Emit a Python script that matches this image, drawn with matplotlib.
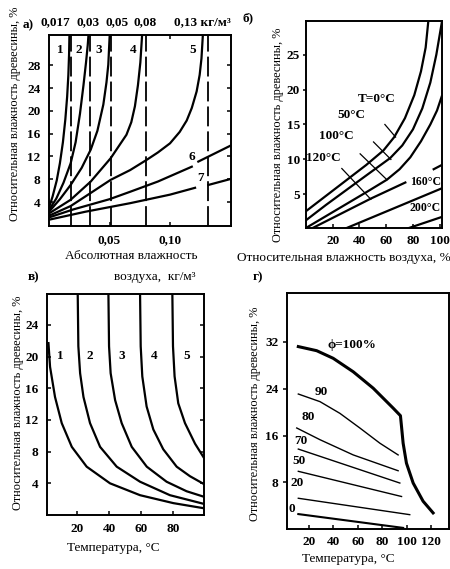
import numpy as np
import matplotlib
matplotlib.use('Agg')
import matplotlib.pyplot as plt
from matplotlib import rc

rc('font', **{'family': ['Liberation Serif', 'DejaVu Serif'], 'size': 9})
rc('axes', **{'linewidth': 1.4})
rc('xtick', **{'direction': 'in', 'major.size': 3, 'major.width': 1.1})
rc('ytick', **{'direction': 'in', 'major.size': 3, 'major.width': 1.1})

W, H = 450, 569

# ---------------- panel a: wood moisture vs absolute air humidity
a_x1 = [0, 0.003, 0.0064, 0.009, 0.0115, 0.0135, 0.015, 0.016, 0.0166, 0.0169]
a_y1 = [3.0, 5.0, 7.8, 10.8, 14.5, 18.5, 22.5, 26.3, 30.0, 33.5]
a_x2 = [0, 0.006, 0.012, 0.0179, 0.022, 0.0256, 0.0285, 0.0306, 0.032, 0.0327]
a_y2 = [2.6, 4.6, 7.4, 10.8, 14.5, 19.5, 24.5, 28.5, 31.5, 33.5]
a_x3 = [0, 0.009, 0.0179, 0.027, 0.0345, 0.040, 0.0449, 0.0475, 0.049, 0.0502]
a_y3 = [2.3, 4.5, 7.0, 10.0, 13.2, 16.5, 21.1, 25.0, 28.1, 33.5]
a_x4 = [0, 0.0179, 0.0345, 0.051, 0.064, 0.068, 0.071, 0.0735, 0.0755, 0.077]
a_y4 = [2.0, 4.4, 7.6, 11.7, 15.8, 18.0, 20.8, 24.5, 28.5, 33.5]
a_x5 = [0, 0.0179, 0.0345, 0.051, 0.067, 0.0807, 0.090, 0.100, 0.108, 0.1138,
        0.118, 0.122, 0.1245, 0.126, 0.1272]
a_y5 = [1.6, 3.3, 5.6, 7.9, 9.6, 11.4, 12.7, 14.3, 16.3, 18.3,
        20.5, 23.4, 26.3, 29.2, 33.5]
a_x6 = [0, 0.02, 0.05, 0.067, 0.09, 0.118]
a_y6 = [1.3, 2.7, 4.5, 5.8, 7.6, 10.2]
a_x6b = [0.1234, 0.151]
a_y6b = [11.1, 14.0]
a_x7 = [0, 0.03, 0.067, 0.100, 0.1207]
a_y7 = [0.9, 2.3, 3.8, 5.3, 6.5]
a_x7b = [0.1317, 0.151]
a_y7b = [7.0, 8.1]
a_dash = [0.018, 0.034, 0.051, 0.080, 0.131]
a_lab_x = [0.009, 0.025, 0.0413, 0.0697, 0.119]
a_lab = ['1', '2', '3', '4', '5']

# ---------------- panel b: wood moisture vs relative air humidity
b_x0 = [0, 15, 30, 45, 58, 66, 74, 81, 86, 89.5, 91.5]
b_y0 = [2.6, 4.8, 7.0, 9.2, 11.3, 13.2, 15.9, 19.2, 22.6, 26.0, 29.8]
b_x50 = [0, 15, 30, 45, 63, 72, 80, 87, 93, 97.5, 101.5]
b_y50 = [1.3, 3.5, 5.6, 7.7, 10.2, 12.0, 14.3, 17.3, 21.0, 25.0, 29.5]
b_x100 = [0, 15, 30, 45, 60.5, 70, 78, 86, 93, 98, 101.5]
b_y100 = [0.2, 1.9, 3.6, 5.3, 7.1, 8.6, 10.3, 12.6, 15.0, 17.0, 19.0]
b_x120 = [3, 48.5, 74.3]
b_y120 = [0, 4.4, 6.7]
b_x120b = [95.5, 101.5]
b_y120b = [8.6, 9.2]
b_x160 = [28, 102]
b_y160 = [0, 5.9]
b_x200 = [74, 102]
b_y200 = [0, 1.8]
# short leader strokes pointing at the curves
b_lead_x = [[59, 67], [50.5, 63.5], [40.5, 60.5], [26.8, 48.5]]
b_lead_y = [[15.0, 13.2], [12.5, 10.0], [10.8, 7.1], [8.7, 4.3]]

# ---------------- panel c: wood moisture vs temperature, curves 1-5
c_x1 = [2.1, 3.1, 6.2, 10.4, 16.7, 26, 40.6, 59.4, 80.2, 99.4]
c_y1 = [21.7, 18.7, 14.9, 11.6, 8.6, 6.1, 4.0, 2.5, 1.5, 0.85]
c_x2 = [20.4, 20.8, 21.9, 24, 28.1, 34.4, 44.8, 59.4, 78.1, 99.4]
c_y2 = [28, 21.3, 17.9, 14.9, 11.6, 8.6, 6.1, 4.2, 2.5, 1.4]
c_x3 = [39.6, 40, 41, 43.8, 47.9, 54.2, 63.6, 76, 88.5, 99.4]
c_y3 = [28, 21.3, 17.9, 14.5, 11.6, 8.6, 6.1, 4.2, 3.0, 2.3]
c_x4 = [59.4, 59.8, 60.8, 63.5, 67.7, 73.9, 82.3, 90.6, 99.4]
c_y4 = [28, 21.3, 17.5, 13.7, 10.8, 8.3, 6.1, 4.9, 3.9]
c_x5 = [79.6, 80, 81, 83.3, 87.5, 93.8, 99.4]
c_y5 = [28, 21.3, 17.5, 14.1, 11.6, 9.0, 7.2]
c_lab_x = [9.4, 28.1, 47.9, 68.1, 88.5]
c_lab = ['1', '2', '3', '4', '5']

# ---------------- panel d: wood moisture vs temperature at given phi
d_x100 = [11.3, 26.3, 39.8, 56.2, 72.5, 88.8, 94.8, 95.7, 97, 99.7, 105.2, 113.3, 121.5]
d_y100 = [31.2, 30.5, 29.2, 26.9, 24.1, 20.7, 19.4, 17.5, 14.7, 11.3, 7.9, 4.8, 2.8]
d_x90 = [11.3, 29, 45.3, 61.6, 78, 92.9]
d_y90 = [23.1, 21.8, 19.8, 17.3, 14.7, 12.7]
d_x80 = [10, 29, 56.2, 92.9]
d_y80 = [17.3, 15.3, 12.7, 10.0]
d_x70 = [11.3, 94.3]
d_y70 = [13.7, 7.9]
d_x50 = [11.3, 95.7]
d_y50 = [9.9, 5.6]
d_x20 = [11.3, 102.4]
d_y20 = [5.3, 2.5]
d_x0 = [11.3, 97]
d_y0 = [2.6, 0.24]
d_lab = ['ϕ=100%', '90', '80', '70', '50', '20', '0']
d_lab_x = [55.4, 30.4, 19.5, 13.5, 11.8, 10.5, 5.9]
d_lab_y = [31.5, 23.4, 19.1, 15.1, 11.6, 7.9, 3.4]

fig = plt.figure(figsize=(W / 100, H / 100), dpi=100)


def pxrect(l, t, r, b):
    return [l / W, 1 - b / H, (r - l) / W, (b - t) / H]


def ftext(px, py, s, **kw):
    fig.text(px / W, 1 - py / H, s, **kw)


lw = 1.6
tickfont = dict(fontsize=9.5, fontweight='bold')
labfont = dict(fontsize=9.5)
ylabfont = dict(fontsize=8.9)
ylab = 'Относительная влажность древесины, %'

# ======================================================================== a
ax = fig.add_axes(pxrect(49, 35, 231, 226))
ax.set_xlim(0, 0.1504)
ax.set_ylim(-0.2, 33.3)
for xs, ys in [(a_x1, a_y1), (a_x2, a_y2), (a_x3, a_y3), (a_x4, a_y4), (a_x5, a_y5),
               (a_x6, a_y6), (a_x6b, a_y6b), (a_x7, a_y7), (a_x7b, a_y7b)]:
    ax.plot(xs, ys, color='k', lw=lw)
for xd in a_dash:
    ax.axvline(xd, color='k', lw=1.3, dashes=(11, 2.8))
for xl, s in zip(a_lab_x, a_lab):
    ax.text(xl, 30.7, s, ha='center', va='center', **tickfont)
ax.text(0.118, 11.9, '6', ha='center', va='center', **tickfont)
ax.text(0.125, 8.2, '7', ha='center', va='center', **tickfont)
ax.set_xticks([0.05, 0.10])
ax.set_xticklabels(['0,05', '0,10'], **tickfont)
ax.set_yticks(np.arange(4, 29, 4))
ax.set_yticklabels([str(v) for v in np.arange(4, 29, 4)], **tickfont)
ax.tick_params(top=True, right=True, pad=6)
ax.tick_params(axis='x', pad=6)

for px, s in zip([55, 88, 117, 145], ['0,017', '0,03', '0,05', '0,08']):
    ftext(px, 22, s, ha='center', va='center', **tickfont)
ftext(174, 22, '0,13 кг/м³', ha='left', va='center', **tickfont)
ftext(28, 25, 'а)', ha='center', va='center', **tickfont)
ftext(15, 114, ylab, rotation=90, ha='center', va='center', **ylabfont)
ftext(131, 256, 'Абсолютная влажность', ha='center', va='center', **labfont)
ftext(155, 277, 'воздуха,  кг/м³', ha='center', va='center', **labfont)

# ======================================================================== b
ax = fig.add_axes(pxrect(306, 21, 441.7, 228.3))
ax.set_xlim(0, 101.5)
ax.set_ylim(0.15, 29.8)
for xs, ys in [(b_x0, b_y0), (b_x50, b_y50), (b_x100, b_y100), (b_x120, b_y120),
               (b_x120b, b_y120b), (b_x160, b_y160), (b_x200, b_y200)]:
    ax.plot(xs, ys, color='k', lw=lw)
for xs, ys in zip(b_lead_x, b_lead_y):
    ax.plot(xs, ys, color='k', lw=0.9)
ax.text(53, 18.7, 'T=0°C', ha='center', va='center', **tickfont)
ax.text(34.3, 16.4, '50°C', ha='center', va='center', **tickfont)
ax.text(23, 13.3, '100°C', ha='center', va='center', **tickfont)
ax.text(13, 10.2, '120°C', ha='center', va='center', **tickfont)
ax.text(89.3, 6.8, '160°C', ha='center', va='center', fontsize=8.5, fontweight='bold')
ax.text(89.3, 3.0, '200°C', ha='center', va='center', fontsize=8.5, fontweight='bold')
ax.set_xticks([20, 40, 60, 80, 100])
ax.set_xticklabels(['20', '40', '60', '80', '100'], **tickfont)
ax.set_yticks([5, 10, 15, 20, 25])
ax.set_yticklabels(['5', '10', '15', '20', '25'], **tickfont)
ax.tick_params(axis='y', direction='out', pad=2, length=2.5)
ax.tick_params(axis='x', pad=5)
ftext(248, 18, 'б)', ha='center', va='center', **tickfont)
ftext(278, 135, ylab, rotation=90, ha='center', va='center', **ylabfont)
ftext(344, 258, 'Относительная влажность воздуха, %', ha='center', va='center', **labfont)
ftext(258, 277, 'г)', ha='center', va='center', **tickfont)

# ======================================================================== c
ax = fig.add_axes(pxrect(46.7, 294, 204, 515))
ax.set_xlim(1, 99.4)
ax.set_ylim(0, 27.9)
for xs, ys in [(c_x1, c_y1), (c_x2, c_y2), (c_x3, c_y3), (c_x4, c_y4), (c_x5, c_y5)]:
    ax.plot(xs, ys, color='k', lw=lw)
for xl, s in zip(c_lab_x, c_lab):
    ax.text(xl, 20.1, s, ha='center', va='center', **tickfont)
ax.set_xticks([20, 40, 60, 80])
ax.set_xticklabels(['20', '40', '60', '80'], **tickfont)
ax.set_yticks(np.arange(4, 25, 4))
ax.set_yticklabels([str(v) for v in np.arange(4, 25, 4)], **tickfont)
ax.tick_params(right=True, pad=6)
ax.tick_params(axis='x', pad=5.5)
ftext(33, 277, 'в)', ha='center', va='center', **tickfont)
ftext(18, 403, ylab, rotation=90, ha='center', va='center', **ylabfont)
ftext(113, 548, 'Температура, °С', ha='center', va='center', **labfont)

# ======================================================================== d
ax = fig.add_axes(pxrect(286.7, 293.3, 449, 529.3))
ax.set_xlim(1.8, 134.5)
ax.set_ylim(0, 40.3)
ax.plot(d_x100, d_y100, color='k', lw=2.2)
for xs, ys in [(d_x90, d_y90), (d_x80, d_y80), (d_x70, d_y70), (d_x50, d_y50), (d_x20, d_y20)]:
    ax.plot(xs, ys, color='k', lw=1.0)
ax.plot(d_x0, d_y0, color='k', lw=1.5)
for xl, yl, s in zip(d_lab_x, d_lab_y, d_lab):
    ax.text(xl, yl, s, ha='center', va='center', **tickfont)
ax.set_xticks([20, 40, 60, 80, 100, 120])
ax.set_xticklabels(['20', '40', '60', '80', '100', '120'], **tickfont)
ax.set_yticks([8, 16, 24, 32])
ax.set_yticklabels(['8', '16', '24', '32'], **tickfont)
ax.tick_params(axis='y', direction='out', pad=3)
ax.tick_params(axis='x', pad=5)
ftext(255, 414, ylab, rotation=90, ha='center', va='center', **ylabfont)
ftext(348, 559, 'Температура, °С', ha='center', va='center', **labfont)

fig.savefig('out.png', dpi=100)
